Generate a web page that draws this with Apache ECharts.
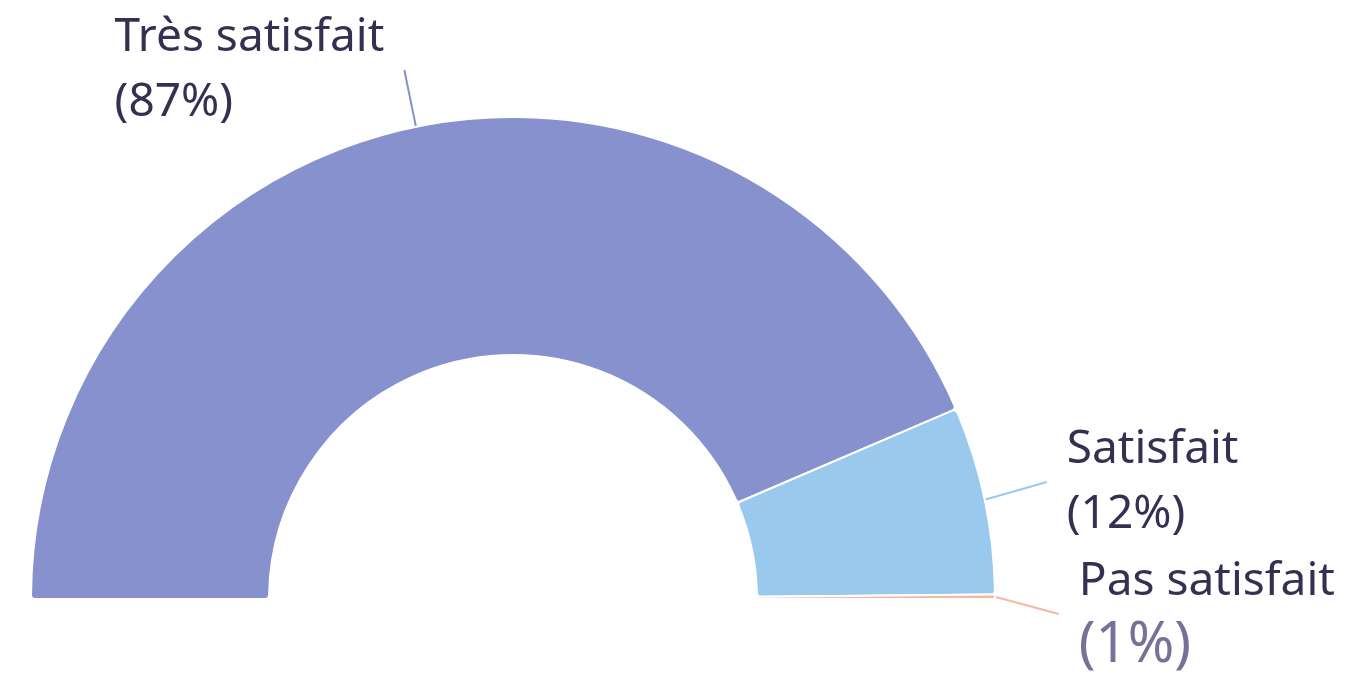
<!DOCTYPE html>
<html>
<head>
<meta charset="utf-8">
<script src="https://cdn.jsdelivr.net/npm/echarts@6/dist/echarts.min.js"></script>
<style>
  html, body { margin: 0; padding: 0; background: #fff; }
  #chart { width: 1347px; height: 680px; }
</style>
</head>
<body>
<div id="chart"></div>
<script>
// categories and values (share of answers)
const categories = ["Très satisfait", "Satisfait", "Pas satisfait"];
const values = [87.1, 12.6, 0.3];
const shownPct = [87, 12, 1];
const colors = ["#8791ce", "#99caee", "#f4b8a4"];
const lineLen = [58, 84, 84];

let myCharts = echarts.init(document.getElementById("chart"));

let option = {
  animation: false,
  series: [
    {
      type: "pie",
      center: [513, 599],
      radius: [244, 482],
      startAngle: 180,
      endAngle: 0,
      clockwise: true,
      avoidLabelOverlap: true,
      minShowLabelAngle: 0,
      itemStyle: {
        borderColor: "#fff",
        borderWidth: 2,
        borderRadius: 4,
      },
      label: {
        show: true,
        fontFamily: "Noto Sans",
        fontSize: 46,
        color: "#352f52",
        lineHeight: 65,
        distanceToLabelLine: 20,
        formatter: function (p) {
          let i = p.dataIndex;
          if (i === 2) return "{a|" + p.name + "}\n{b|(" + shownPct[i] + "%)}";
          return "{a|" + p.name + "}\n{a|(" + shownPct[i] + "%)}";
        },
        rich: {
          a: { align: "left", fontSize: 46, lineHeight: 65, color: "#352f52", fontFamily: "Noto Sans" },
          b: { align: "left", fontSize: 56, lineHeight: 65, color: "#777199", fontFamily: "Noto Sans" },
        },
      },
      labelLine: {
        show: true,
        length: 58,
        length2: 0,
        lineStyle: { width: 2 },
      },
      data: categories.map((c, i) => ({
        name: c,
        value: values[i],
        itemStyle: { color: colors[i] },
        labelLine: { length: lineLen[i] },
      })),
    },
  ],
};

myCharts.setOption(option);
</script>
</body>
</html>
